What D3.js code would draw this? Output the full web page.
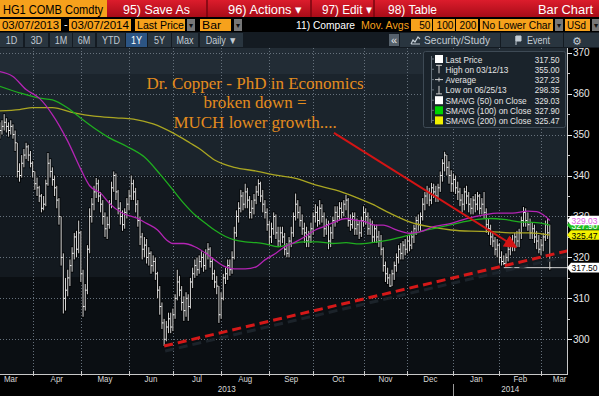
<!DOCTYPE html>
<html>
<head>
<meta charset="utf-8">
<script src="https://cdn.jsdelivr.net/npm/d3@7"></script>
<style>
  body { margin: 0; background: #000; }
  svg { display: block; font-family: "Liberation Sans", Arial, sans-serif; }
</style>
</head>
<body>
<div id="chart"></div>
<script>
// HG1 COMB Comdty daily bars, 03/07/2013 - 03/07/2014, one entry per trading day
var closes = [
  350,351,352,353,352,351,352,350,348,341,340,343,345,347,345,343,
  341,338,337,335,332,333,338,343,341,339,337,334,330,320,310,312,315,318,321,325,322,326,
  316,308,312,322,330,333,336,338,335,333,330,327,328,333,337,340,336,332,330,328,331,333,
  335,338,336,333,329,325,322,323,320,321,318,319,316,312,308,304,300,303,305,303,
  306,310,314,312,309,307,310,308,314,316,318,317,319,320,318,321,322,319,316,314,313,306,
  310,315,316,318,317,320,326,330,332,335,333,336,334,331,332,334,336,338,335,333,331,328,
  325,327,330,326,324,326,325,322,321,324,326,330,333,331,329,327,326,324,325,327,
  330,331,329,332,330,327,328,324,326,329,331,330,332,331,333,334,329,328,330,327,328,326,329,
  331,330,327,328,325,327,325,324,322,318,316,315,313,316,318,320,322,321,323,322,
  324,323,325,327,329,328,330,333,335,336,334,337,336,335,337,340,343,345,342,340,338,
  339,337,336,334,333,336,335,333,332,334,333,335,332,333,331,328,327,325,324,322,323,
  320,319,318.5,320,322,324,323,325,324,326,329,331,329,328,326,327,325,324,322,
  323,325,328,326,317.5
];
var highs = [
  352,353,353.5,355,354,353,353.5,352.5,351,348,343,345,346.5,348,347.5,346,
  343.5,341,339.5,337.5,335.5,335,339,345.5,344,342,340,337.5,334.5,330,321,315,317,319.5,322.5,326,326.5,329,
  326.5,317,313.5,323,332,334.5,337.5,339.4,339,336,334,331,330,334,338.5,341,340.5,336.5,333.5,331.5,332,334.5,
  336.5,340,339,337,334,330,326,325,324.5,322.5,321.5,320.5,320,316.5,313,309,305,304.5,306.5,306.5,
  307.5,311,317,315.5,313,310.5,311.5,311,315,317.5,319.5,320,320.5,321.5,321,322,323.5,322.5,320,317,315.5,313,
  311.5,316,317.5,319.5,319.5,321.5,327.5,331.5,333.5,336.5,336,338,337,335,334,335.5,337.5,339.1,338.5,336.5,334,332,
  329,328.5,331,330.5,327.5,327.5,327.5,326,323.5,325,327.5,331,335.6,334,332.5,330.5,328.5,327.5,326.5,328.5,
  331,333,332.5,334,333,331,329.5,329,327.5,330,332.5,332.5,333.5,333.5,334,335.3,334.5,330.5,331,331,329.5,329,330,
  332.5,332,331,329.5,329,328,328,326.5,325.5,322.5,319,317.5,316,317,319,321,323,323.5,324,324.5,
  325.5,325.5,326.5,328,330,330.5,331,334.5,336,337.5,337,338.2,338,337.5,338,341,344,345.8,345,343.5,341.3,
  340.5,340,338.5,337,335.5,337,337.5,336,334.5,335,335.5,336,335.5,334.5,336,332,329.5,328,326.5,325,324.5,
  323.5,321.5,320.5,321,323,325,325.5,326,326.5,327,330,332.3,332,331,329.5,328.5,328,326.5,325.5,
  324.5,326,329,329.5,328
];
var lows = [
  348,349,350,351,350.5,349.5,350,349,346,339.5,338.5,339.5,342,344,343.5,342,
  339.5,336.5,335,333.5,331,331.5,332.5,337.5,339.5,337.5,335,332,328,318,306.3,307,310.5,313,316.5,319.5,320,321,
  314,305.5,307,311,321,328.5,331.5,334.5,333.5,331,328,325,324.5,327,332,336,334,330.5,328,326.5,327,329.5,
  331.5,334,334,331,327.5,323,319.5,320,318.5,318,316,316.5,314.5,310,306,302.5,298.35,299.5,301.5,301.5,
  302,305,309.5,310.5,307,304.5,305.5,304.5,307.5,312.5,315,315.5,316,317.5,316.5,317,319.5,317.5,314.5,312.5,311,304,
  305,309.5,313.5,314.5,315.5,316,319.5,325,328.5,331,331.5,332,332,329.5,329.5,330.5,333,335,333.5,331,329.5,326.5,
  323,323.5,325.5,324.5,322.5,322.5,323.5,320.5,320,320,322.5,325,329,329.5,327.5,325.5,323.5,322.5,322.5,323.5,
  325.5,328.5,327.5,328,328.5,325,325.5,322,322.5,324.5,327.5,328.5,329,329.5,330,331.5,327.5,326.5,327,325.5,325.5,324.5,325,
  327.5,328,325.5,325.5,323.5,323.5,323.5,322.5,320.5,316.5,314,313.5,312.8,313,314.5,316.5,318.5,319.5,319.5,320.5,
  321,321.5,322,323.5,325.5,326.5,326.5,329,331.5,333,332.5,333,334.5,333.5,333.5,336,338.5,341,340,338,336,
  336,335.5,334,332.5,331,331.5,333,331,330.5,330.5,331,331.5,330.5,330.5,329.5,326,325.5,323,322.5,320.5,320,
  318.5,318,318.1,318.1,319,320.5,321.5,321.5,322.5,322.5,324.5,327.5,327.5,326.5,324.5,324.5,323.5,322,321,
  320.5,321.5,324,324.5,317
];

// moving averages at trading-day positions
var sma50Idx = [1,7,13,19,25,32,38,42,47,51,57,64,68,73,77,80,85,90,95,99,104,108,113,118,122,127,131,136,140,145,149,154,159,163,168,172,176,182,188,193,199,207,214,222,228,235,242,246,249,252];
var sma50Val = [365.4,364.2,361,358.9,354.9,348.4,341.5,337.5,335.7,333.2,330.8,329.5,328.3,326.7,324.3,323.4,323.4,322.6,321,319.4,317.7,317.2,317.2,317.7,319.4,321,322.6,323.8,325,326.7,327.5,328.7,329.5,329.1,328.7,327.9,327.9,326.7,325.9,326.3,327.5,328.3,329.5,330.4,330.8,330.8,331.3,331.2,330.4,329.03];
var sma100Idx = [1,10,19,25,32,38,44,51,59,67,74,80,85,90,95,99,104,108,113,118,122,128,134,140,146,153,159,165,171,179,188,196,203,211,219,225,231,238,246,252];
var sma100Val = [361.8,360.2,358.9,358.5,356.5,354,351.6,349.2,347.1,344.5,340.4,336.5,333.2,330.4,328.3,326.7,325.1,324.3,323.8,323.6,323.3,322.6,323.3,323.8,323.8,323.4,323.6,323.3,323.6,324.3,325.5,326.7,327.5,328.5,329.3,329.5,329.3,328.7,328.5,327.9];
var sma200Idx = [1,10,16,25,35,44,54,62,71,80,88,92,99,108,118,127,136,145,154,163,171,179,188,197,207,216,225,234,243,252];
var sma200Val = [355.8,356.1,356.6,356.6,355.3,354.5,354.1,353.8,352.6,350.4,347.9,346.6,343.8,342,341.1,340.1,339.3,337.7,336.5,334.8,333,330.8,328.7,327.5,326.7,326.4,326.3,326,326,325.47];

var monthNames = ["Mar","Apr","May","Jun","Jul","Aug","Sep","Oct","Nov","Dec","Jan","Feb","Mar"];
var monthStarts = [-4,16,38,60,80,102,124,144,167,187,208,229,248,265];
var yearNames = ["2013","2014"];
var yearStarts = [-4,208,265];
var yTicks = [300,310,320,330,340,350,360,370];
var yMinor = [305,315,325,335,345,355,365];

var legendLabels = ["Last Price","High on 03/12/13","Average","Low on 06/25/13","SMAVG (50) on Close","SMAVG (100) on Close","SMAVG (200) on Close"];
var legendValues = ["317.50","355.00","327.23","298.35","329.03","327.90","325.47"];

var lastPrice = 317.50;
var lastLineStart = 231;
var trendIdx = [76, 260], trendVal = [298.35, 321.6];
var arrowIdx = [153.5, 236.6], arrowVal = [350.4, 322.5];
var noteLines = ["Dr. Copper - PhD in Economics", "broken down =", "MUCH lower growth...."];
var noteIdx = 117.5, noteVals = [361.2, 356.4, 351.5];

var ORANGE = "#f6a11c";
var plotRight = 567, plotTop = 48, plotBottom = 374;

var x = d3.scaleLinear().domain([0, 252]).range([-2.4, 549.8]);
var y = d3.scaleLinear().domain([300, 370]).range([339.3, 52.7]);

var svg = d3.select("#chart").append("svg").attr("width", 599).attr("height", 396);
svg.append("rect").attr("width", 599).attr("height", 396).attr("fill", "#000");

var defs = svg.append("defs");
var grad = defs.append("linearGradient").attr("id", "redbar")
    .attr("x1", 0).attr("y1", 0).attr("x2", 0).attr("y2", 1);
grad.append("stop").attr("offset", "0%").attr("stop-color", "#dc1c2c");
grad.append("stop").attr("offset", "100%").attr("stop-color", "#a80c18");
defs.append("clipPath").attr("id", "plotclip").append("rect")
    .attr("x", 0).attr("y", plotTop).attr("width", plotRight).attr("height", plotBottom - plotTop);
defs.append("marker").attr("id", "head").attr("viewBox", "0 0 10 10")
    .attr("refX", 9).attr("refY", 5).attr("markerWidth", 14).attr("markerHeight", 13)
    .attr("markerUnits", "userSpaceOnUse").attr("orient", "auto")
    .append("path").attr("d", "M0,0 L10,5 L0,10 Z").attr("fill", "#d41414");

function fit(t, w) {
    t.attr("textLength", w).attr("lengthAdjust", "spacingAndGlyphs");
    return t;
}
function squeeze(t, k) {
    t.each(function() {
        var w = this.getComputedTextLength();
        d3.select(this).attr("textLength", w * k).attr("lengthAdjust", "spacingAndGlyphs");
    });
    return t;
}
function txt(parent, px, py, s, size, fill, anchor) {
    return parent.append("text").attr("x", px).attr("y", py)
        .attr("font-size", size).attr("fill", fill)
        .attr("text-anchor", anchor || "start").text(s);
}

// ---- toolbar, row 1
var bar = svg.append("g");
bar.append("rect").attr("width", 599).attr("height", 17).attr("fill", "url(#redbar)");
bar.append("rect").attr("width", 107).attr("height", 17).attr("fill", ORANGE);
fit(txt(bar, 3, 13.5, "HG1 COMB Comdty", 13, "#000"), 100);
[[123, "95) Save As", 67], [228, "96) Actions \u25BE", 74], [322, "97) Edit \u25BE", 50], [388, "98) Table", 49]]
    .forEach(function(m) { fit(txt(bar, m[0], 13.5, m[1], 13, "#fff"), m[2]); });
fit(txt(bar, 538, 13.5, "Bar Chart", 13, "#fff"), 55);
[207, 311, 374].forEach(function(sx) {
    bar.append("line").attr("x1", sx).attr("x2", sx).attr("y1", 0).attr("y2", 17)
        .attr("stroke", "#76060f").attr("stroke-width", 1.5);
});

// ---- toolbar, row 2
var row2 = [[0, 61, "03/07/2013", 57], [69, 62, "03/07/2014", 58], [135, 50, "Last Price", 47],
            [200, 31, "Bar", 19], [480, 73, "No Lower Char", 69], [565, 25, "USd", 19]];
row2.forEach(function(b) {
    bar.append("rect").attr("x", b[0]).attr("y", 19).attr("width", b[1]).attr("height", 12).attr("fill", ORANGE);
    fit(txt(bar, b[0] + 2, 29, b[2], 11.5, "#000"), b[3]);
});
[[411, 21, "50"], [433, 22, "100"], [456, 22, "200"]].forEach(function(b) {
    bar.append("rect").attr("x", b[0]).attr("y", 19).attr("width", b[1]).attr("height", 12).attr("fill", ORANGE);
    squeeze(txt(bar, b[0] + b[1] - 1.5, 29, b[2], 11.5, "#000", "end"), 0.88);
});
[187, 234, 555, 592].forEach(function(dx) {
    bar.append("rect").attr("x", dx).attr("y", 19).attr("width", 8).attr("height", 12).attr("fill", "#777");
    txt(bar, dx + 4, 28, "\u25BE", 8, "#111", "middle");
});
txt(bar, 64, 28, "-", 11, "#fff");
fit(txt(bar, 296, 29, "11) Compare", 11.5, "#fff"), 59);
fit(txt(bar, 361, 29, "Mov. Avgs", 11.5, ORANGE), 48);

// ---- toolbar, row 3
bar.append("rect").attr("y", 32).attr("width", 599).attr("height", 16).attr("fill", "#141b22");
var btns = [[0, 23, "1D"], [25, 23, "3D"], [50, 22, "1M"], [73, 22, "6M"], [97, 28, "YTD"],
            [126, 21, "1Y"], [148, 23, "5Y"], [172, 26, "Max"], [200, 43, "Daily \u25BC"]];
btns.forEach(function(b) {
    var on = b[2] === "1Y";
    bar.append("rect").attr("x", b[0]).attr("y", 33).attr("width", b[1]).attr("height", 14)
        .attr("fill", on ? "#2c5584" : "#29353f");
    squeeze(txt(bar, b[0] + b[1] / 2, 44, b[2], 10, on ? "#fff" : "#c3ccd4", "middle"), 0.9);
});
bar.append("rect").attr("x", 389).attr("y", 34).attr("width", 10).attr("height", 12).attr("fill", "#56616b");
txt(bar, 394, 44, "\u00AB", 11, "#e8e8e8", "middle");
[[400, 100], [501, 62], [564, 35]].forEach(function(b) {
    bar.append("rect").attr("x", b[0]).attr("y", 33).attr("width", b[1]).attr("height", 14).attr("fill", "#29353f");
});
bar.append("path").attr("d", "M411,44 L413,40 L415,42 L418,37 L420,39 M411,44 L420,44")
    .attr("fill", "none").attr("stroke", "#c3ccd4").attr("stroke-width", 1.2);
fit(txt(bar, 424, 44, "Security/Study", 10.5, "#c3ccd4"), 66);
bar.append("path").attr("d", "M516,36 L516,45 M516,36 L521,36 L521,41 L516,41 Z")
    .attr("fill", "#c3ccd4").attr("stroke", "#c3ccd4").attr("stroke-width", 1);
fit(txt(bar, 527, 44, "Event", 10.5, "#c3ccd4"), 23);
txt(bar, 577, 44.5, "\u2699", 11, "#c3ccd4", "middle").attr("font-family", "DejaVu Sans");

// ---- plot background bands and grid
var bg = svg.append("g");
[[48, 74, "#222c35"], [74, 175, "#1b242c"], [175, 277, "#13191f"], [277, 374, "#0b0f13"]].forEach(function(b) {
    bg.append("rect").attr("x", 0).attr("y", b[0]).attr("width", plotRight).attr("height", b[1] - b[0]).attr("fill", b[2]);
});

var grid = svg.append("g").attr("clip-path", "url(#plotclip)")
    .attr("stroke", "#66717c").attr("stroke-width", 1).attr("stroke-dasharray", "1,2");
grid.selectAll(".hg").data(yTicks).enter().append("line")
    .attr("x1", 0).attr("x2", plotRight)
    .attr("y1", function(d) { return Math.round(y(d)) + 0.5; })
    .attr("y2", function(d) { return Math.round(y(d)) + 0.5; });
grid.selectAll(".vg").data(monthStarts.slice(1, -1)).enter().append("line")
    .attr("y1", plotTop).attr("y2", plotBottom)
    .attr("x1", function(d) { return Math.round(x(d)) + 0.5; })
    .attr("x2", function(d) { return Math.round(x(d)) + 0.5; });

// ---- price bars
var bars = closes.map(function(c, i) { return { i: i, c: c, h: highs[i], l: lows[i] }; });
var pg = svg.append("g").attr("clip-path", "url(#plotclip)");
pg.selectAll(".shade").data(bars).enter().append("line")
    .attr("x1", function(d) { return x(d.i); }).attr("x2", function(d) { return x(d.i); })
    .attr("y1", function(d) { return y(d.h) - 1; }).attr("y2", function(d) { return y(d.l) + 1; })
    .attr("stroke", "#000").attr("stroke-opacity", 0.75).attr("stroke-width", 2.8);
pg.selectAll(".hl").data(bars).enter().append("line")
    .attr("x1", function(d) { return x(d.i); }).attr("x2", function(d) { return x(d.i); })
    .attr("y1", function(d) { return y(d.h); }).attr("y2", function(d) { return y(d.l); })
    .attr("stroke", "#d6d6d6").attr("stroke-width", 1);
pg.selectAll(".cl").data(bars).enter().append("line")
    .attr("x1", function(d) { return x(d.i); }).attr("x2", function(d) { return x(d.i) + 1.6; })
    .attr("y1", function(d) { return y(d.c); }).attr("y2", function(d) { return y(d.c); })
    .attr("stroke", "#fff").attr("stroke-width", 1);

// ---- moving averages
var maLine = d3.line()
    .x(function(d) { return x(d[0]); })
    .y(function(d) { return y(d[1]); })
    .curve(d3.curveMonotoneX);
var mg = svg.append("g").attr("clip-path", "url(#plotclip)").attr("fill", "none").attr("stroke-width", 1.3);
mg.append("path").attr("d", maLine(d3.zip(sma200Idx, sma200Val))).attr("stroke", "#aaa622");
mg.append("path").attr("d", maLine(d3.zip(sma100Idx, sma100Val))).attr("stroke", "#1fae1f");
mg.append("path").attr("d", maLine(d3.zip(sma50Idx, sma50Val))).attr("stroke", "#b424b4");

// last price line
mg.append("line").attr("x1", x(lastLineStart)).attr("x2", plotRight)
    .attr("y1", y(lastPrice)).attr("y2", y(lastPrice)).attr("stroke", "#cfcfcf").attr("stroke-width", 1);

// ---- annotations
var ag = svg.append("g").attr("clip-path", "url(#plotclip)");
ag.append("line")
    .attr("x1", x(trendIdx[0]) + 1).attr("y1", y(trendVal[0]) + 5)
    .attr("x2", x(trendIdx[1]) + 1).attr("y2", y(trendVal[1]) + 5)
    .attr("stroke", "#1e262d").attr("stroke-opacity", 0.9).attr("stroke-width", 3).attr("stroke-dasharray", "9,5");
ag.append("line")
    .attr("x1", x(trendIdx[0])).attr("y1", y(trendVal[0]))
    .attr("x2", x(trendIdx[1])).attr("y2", y(trendVal[1]))
    .attr("stroke", "#d41818").attr("stroke-width", 3).attr("stroke-dasharray", "9,5");
ag.append("line")
    .attr("x1", x(arrowIdx[0])).attr("y1", y(arrowVal[0]))
    .attr("x2", x(arrowIdx[1])).attr("y2", y(arrowVal[1]))
    .attr("stroke", "#d41414").attr("stroke-width", 2).attr("marker-end", "url(#head)");

noteLines.forEach(function(s, k) {
    txt(svg, x(noteIdx), y(noteVals[k]), s, 17, "#e48c1e", "middle")
        .attr("font-family", "'Liberation Serif', 'Times New Roman', serif");
});

// ---- legend
var lg = svg.append("g");
lg.append("rect").attr("x", 423.5).attr("y", 51.5).attr("width", 142).attr("height", 76).attr("rx", 2)
    .attr("fill", "#1a232b").attr("stroke", "#3e4a55");
lg.append("line").attr("x1", 431.5).attr("x2", 431.5).attr("y1", 56).attr("y2", 123)
    .attr("stroke", "#66727c");
var rowY = [59, 69.3, 79.6, 89.9, 100.2, 110.3, 120.4];
var sq = { 0: "#fff", 4: "#fff", 5: "#00d400", 6: "#f2f200" };
legendLabels.forEach(function(s, k) {
    var cy = rowY[k];
    lg.append("line").attr("x1", 431.5).attr("x2", 434).attr("y1", cy).attr("y2", cy).attr("stroke", "#66727c");
    if (sq[k]) {
        lg.append("rect").attr("x", 435).attr("y", cy - 4).attr("width", 8).attr("height", 8).attr("fill", sq[k]);
    } else if (k === 1) {
        lg.append("path").attr("d", "M436," + (cy - 4) + " L442," + (cy - 4) + " M439," + (cy - 4) + " L439," + (cy + 4))
            .attr("stroke", "#d0d0d0").attr("fill", "none");
    } else if (k === 3) {
        lg.append("path").attr("d", "M436," + (cy + 4) + " L442," + (cy + 4) + " M439," + (cy - 4) + " L439," + (cy + 4))
            .attr("stroke", "#d0d0d0").attr("fill", "none");
    } else {
        lg.append("path").attr("d", "M435," + cy + " L443," + cy + " M439," + (cy - 2) + " L439," + (cy + 2))
            .attr("stroke", "#d0d0d0").attr("fill", "none");
    }
    squeeze(txt(lg, 445.5, cy + 3.5, s, 9.5, "#e4e4e4"), 0.87);
    squeeze(txt(lg, 559.5, cy + 3.5, legendValues[k], 9.5, "#e4e4e4", "end"), 0.85);
});

// ---- right axis
var ax = svg.append("g");
ax.append("line").attr("x1", plotRight + 0.5).attr("x2", plotRight + 0.5).attr("y1", plotTop).attr("y2", plotBottom)
    .attr("stroke", "#c8c8c8");
ax.selectAll(".mt").data(yMinor).enter().append("line")
    .attr("x1", plotRight).attr("x2", plotRight + 3)
    .attr("y1", function(d) { return Math.round(y(d)) + 0.5; }).attr("y2", function(d) { return Math.round(y(d)) + 0.5; })
    .attr("stroke", "#c8c8c8");
ax.selectAll(".Mt").data(yTicks).enter().append("line")
    .attr("x1", plotRight).attr("x2", plotRight + 5)
    .attr("y1", function(d) { return Math.round(y(d)) + 0.5; }).attr("y2", function(d) { return Math.round(y(d)) + 0.5; })
    .attr("stroke", "#e8e8e8");
ax.selectAll(".yl").data(yTicks).enter().append("text")
    .attr("x", plotRight + 6).attr("y", function(d) { return y(d) + 3.6; })
    .attr("font-size", 10).attr("fill", "#e8e8e8").text(function(d) { return d; });

function tag(v, fill, color, s) {
    var c = y(v);
    ax.append("path")
        .attr("d", "M" + plotRight + "," + c + " L" + (plotRight + 4) + "," + (c - 4.8) + " L599," + (c - 4.8) +
              " L599," + (c + 4.8) + " L" + (plotRight + 4) + "," + (c + 4.8) + " Z")
        .attr("fill", fill);
    fit(ax.append("text").attr("x", plotRight + 4.5).attr("y", c + 3.5).attr("font-size", 9.5)
        .attr("fill", color).text(s), 26);
}
tag(+legendValues[5], "#1fc01f", "#fff", legendValues[5]);
tag(+legendValues[6], "#f2f200", "#000", legendValues[6]);
tag(+legendValues[4], "#ffffff", "#e060e0", legendValues[4]);
tag(lastPrice, "#ffffff", "#000", legendValues[0]);

// ---- bottom axis
var bx = svg.append("g");
bx.append("line").attr("x1", 0).attr("x2", plotRight + 1).attr("y1", plotBottom + 0.5).attr("y2", plotBottom + 0.5)
    .attr("stroke", "#c8c8c8");
bx.selectAll(".xt").data(monthStarts.slice(1, -1)).enter().append("line")
    .attr("x1", function(d) { return Math.round(x(d)) + 0.5; }).attr("x2", function(d) { return Math.round(x(d)) + 0.5; })
    .attr("y1", plotBottom - 3).attr("y2", plotBottom + 2).attr("stroke", "#c8c8c8");
var mLabels = bx.selectAll(".ml").data(monthNames).enter().append("text")
    .attr("x", function(d, k) { return (x(monthStarts[k]) + x(monthStarts[k + 1])) / 2; })
    .attr("y", 382).attr("text-anchor", "middle").attr("font-size", 9).attr("fill", "#d8d8d8")
    .text(function(d) { return d; });
squeeze(mLabels, 0.88);
yearNames.forEach(function(s, k) {
    var a = Math.max(0, x(yearStarts[k])), b = Math.min(plotRight, x(yearStarts[k + 1]));
    squeeze(txt(bx, (a + b) / 2, 392, s, 9, "#d8d8d8", "middle"), 0.9);
});
bx.append("line").attr("x1", Math.round(x(yearStarts[1])) + 0.5).attr("x2", Math.round(x(yearStarts[1])) + 0.5)
    .attr("y1", 384).attr("y2", 396).attr("stroke", "#9a9a9a");
</script>
</body>
</html>
